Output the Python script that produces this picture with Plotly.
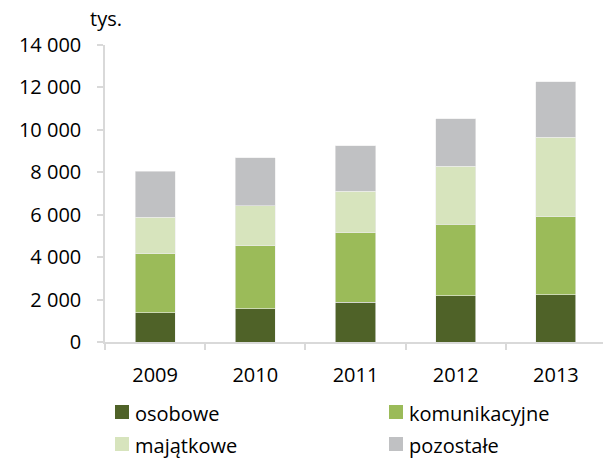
import plotly.graph_objects as go

years = ["2009", "2010", "2011", "2012", "2013"]
osobowe = [1370, 1570, 1870, 2180, 2230]
komunikacyjne = [2780, 2960, 3270, 3370, 3680]
majatkowe = [1730, 1900, 1970, 2740, 3730]
pozostale = [2170, 2250, 2140, 2240, 2620]

series_names = ["osobowe", "komunikacyjne", "majątkowe", "pozostałe"]
series_values = [osobowe, komunikacyjne, majatkowe, pozostale]
series_colors = ["#4F6228", "#9BBB59", "#D7E4BD", "#C0C1C3"]

FONT = "Open Sans"
FS = 20
AXIS_GREY = "#D9D9D9"

# plot-area geometry in pixels, used to place the legend and unit label
W, H = 604, 459
L, R, T, B = 105, 1, 45, 117
PW, PH = W - L - R, H - T - B


def px(x):
    return (x - L) / PW


def py(y):
    return (H - B - y) / PH


fig = go.Figure()
for name, vals, color in zip(series_names, series_values, series_colors):
    fig.add_trace(go.Bar(
        x=years, y=vals, name=name,
        marker=dict(color=color, line=dict(color="#EDEDED", width=0.6)),
    ))

# two-column legend drawn below the axis: square swatch + label
legend_cols = [115, 389]
legend_rows = [412, 444]
shapes = []
annotations = []
for i, (name, color) in enumerate(zip(series_names, series_colors)):
    cx = legend_cols[i % 2]
    cy = legend_rows[i // 2]
    shapes.append(dict(
        type="rect", xref="paper", yref="paper",
        x0=px(cx), x1=px(cx + 14), y0=py(cy - 7), y1=py(cy + 7),
        fillcolor=color, line=dict(width=0),
    ))
    annotations.append(dict(
        text=name, xref="paper", yref="paper", x=px(cx + 19), y=py(cy + 1),
        xanchor="left", yanchor="middle", showarrow=False,
        font=dict(family=FONT, size=FS, color="#000000"), borderpad=0,
    ))

annotations.append(dict(
    text="tys.", xref="paper", yref="paper", x=px(89), y=py(19),
    xanchor="left", yanchor="middle", showarrow=False,
    font=dict(family=FONT, size=FS, color="#000000"), borderpad=0,
))

fig.update_layout(
    barmode="stack",
    bargap=0.6,
    width=W, height=H,
    margin=dict(l=L, r=R, t=T, b=B),
    plot_bgcolor="white", paper_bgcolor="white",
    separators=", ",
    font=dict(family=FONT, size=FS, color="#000000"),
    showlegend=False,
    shapes=shapes,
    annotations=annotations,
)

fig.update_xaxes(
    type="category", range=[-0.5, 4.47],
    showline=True, linecolor=AXIS_GREY, linewidth=1.5,
    ticks="outside", tickson="boundaries", ticklen=6, tickcolor=AXIS_GREY, tickwidth=1.5,
    showgrid=False, ticklabelstandoff=14, tickfont=dict(family=FONT, size=FS),
)
fig.update_yaxes(
    range=[0, 14000], dtick=2000, tickformat=",",
    showline=True, linecolor=AXIS_GREY, linewidth=1.5,
    ticks="outside", ticklen=6, tickcolor=AXIS_GREY, tickwidth=1.5,
    showgrid=False, zeroline=False, ticklabelstandoff=12,
    tickfont=dict(family=FONT, size=FS),
)

fig.write_html("out.html")
